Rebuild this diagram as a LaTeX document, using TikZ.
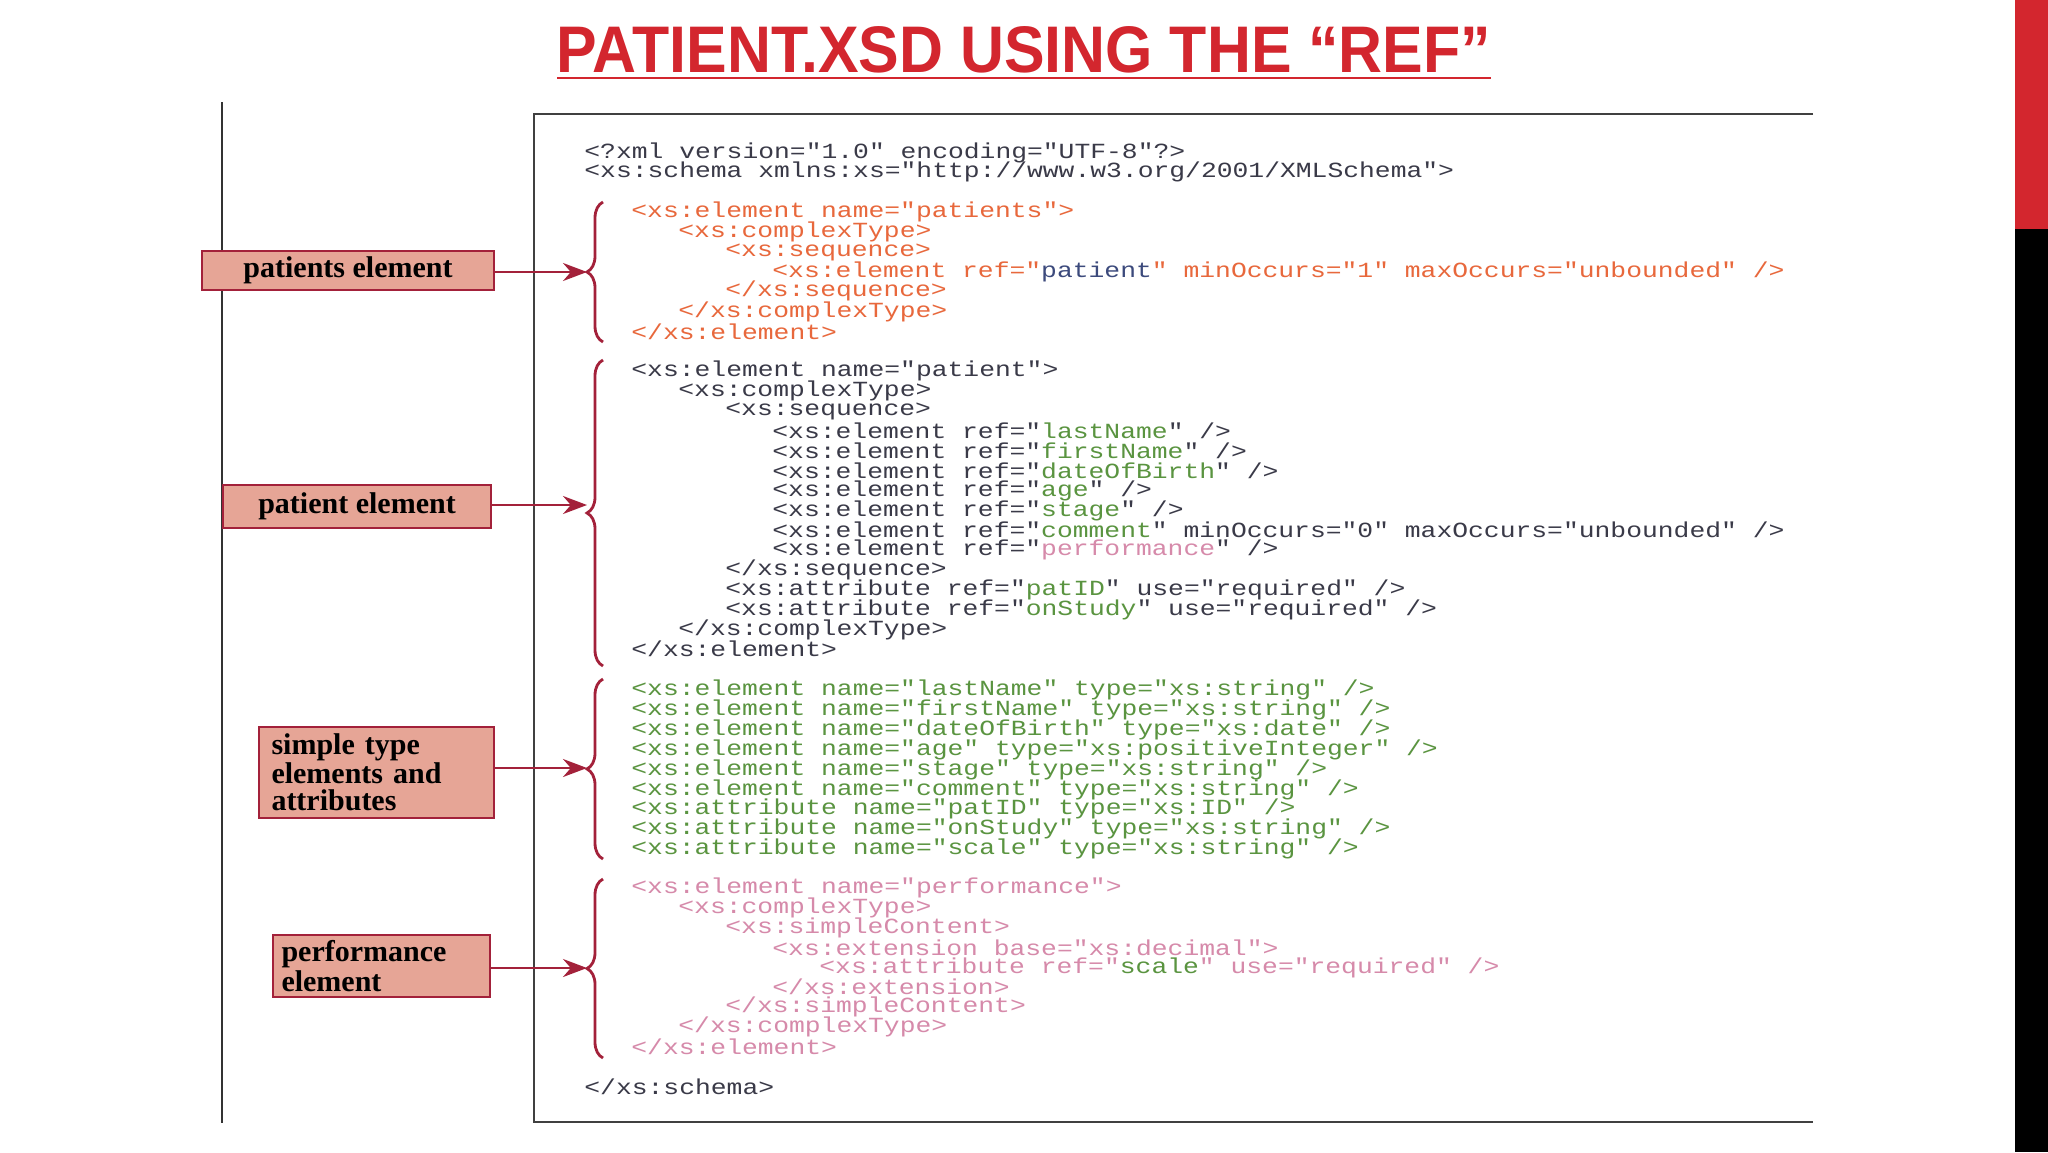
\documentclass[tikz,border=0pt]{standalone}
\usepackage{fontspec}
\usetikzlibrary{decorations.pathreplacing,arrows.meta}
\newfontfamily\codefont[FakeStretch=1.22]{Liberation Mono}
\newfontfamily\labfont{Liberation Serif}
\newfontfamily\ttlfont{Liberation Sans}
\definecolor{cor}{HTML}{E8683C}
\definecolor{cdk}{HTML}{3A3A48}
\definecolor{cgr}{HTML}{5A9440}
\definecolor{cpk}{HTML}{D68AAA}
\definecolor{cbl}{HTML}{3C4A7C}
\definecolor{brc}{HTML}{A3213A}
\definecolor{labfill}{HTML}{E6A596}
\definecolor{ttl}{HTML}{D3262E}
\newcommand\cG[1]{\textcolor{cgr}{#1}}
\newcommand\cP[1]{\textcolor{cpk}{#1}}
\newcommand\cB[1]{\textcolor{cbl}{#1}}
\tikzset{
 code/.style={anchor=west,inner sep=0pt,font=\codefont\fontsize{10.8}{11}\selectfont},
 lab/.style={draw=brc,line width=1.2pt,fill=labfill,inner sep=0pt,font=\labfont\bfseries\fontsize{15}{13.5}\selectfont,align=left},
 br/.style={draw=brc,line width=1.4pt,decorate,decoration={brace,amplitude=8pt,aspect=0.5}},
 arr/.style={draw=brc,line width=1.2pt,-{Stealth[length=12pt,width=9pt]}}
}
\begin{document}
\begin{tikzpicture}[x=0.5pt,y=-0.5pt]
\useasboundingbox (0,0) rectangle (2048,1152);
\fill[white] (0,0) rectangle (2048,1152);
% side bars
\fill[ttl] (2015,0) rectangle (2048,229);
\fill[black] (2015,229) rectangle (2048,1152);
% title
\node[inner sep=0pt,text=ttl] (title) at (1024,50) {\resizebox{467pt}{23pt}{\ttlfont\bfseries PATIENT.XSD USING THE “REF”}};
\draw[ttl,line width=1.3pt] (557,78) -- (1491,78);
% frame lines
\draw[black!80,line width=1pt] (222,102) -- (222,1123);
\draw[black!75,line width=1pt] (1813,114) -- (534,114) -- (534,1122) -- (1813,1122);
% code
\node[code,text=cdk] (h1) at (584,153) {<?xml version="1.0" encoding="UTF-8"?>};
\node[code,text=cdk] (h2) at (584,172) {<xs:schema xmlns:xs="http://www.w3.org/2001/XMLSchema">};
% patients
\begin{scope}[every node/.append style={text=cor}]
\node[code] (a1) at (631,212) {<xs:element name="patients">};
\node[code] (a2) at (678,232) {<xs:complexType>};
\node[code] (a3) at (725,252) {<xs:sequence>};
\node[code] (a4) at (772,272) {<xs:element ref="\cB{patient}" minOccurs="1" maxOccurs="unbounded" />};
\node[code] (a5) at (725,291) {</xs:sequence>};
\node[code] (a6) at (678,312) {</xs:complexType>};
\node[code] (a7) at (631,332) {</xs:element>};
\end{scope}
% patient
\begin{scope}[every node/.append style={text=cdk}]
\node[code] (b1) at (631,371) {<xs:element name="patient">};
\node[code] (b2) at (678,391) {<xs:complexType>};
\node[code] (b3) at (725,411) {<xs:sequence>};
\node[code] (b4) at (772,431) {<xs:element ref="\cG{lastName}" />};
\node[code] (b5) at (772,451) {<xs:element ref="\cG{firstName}" />};
\node[code] (b6) at (772,471) {<xs:element ref="\cG{dateOfBirth}" />};
\node[code] (b7) at (772,491) {<xs:element ref="\cG{age}" />};
\node[code] (b8) at (772,511) {<xs:element ref="\cG{stage}" />};
\node[code] (b9) at (772,530) {<xs:element ref="\cG{comment}" minOccurs="0" maxOccurs="unbounded" />};
\node[code] (b10) at (772,550) {<xs:element ref="\cP{performance}" />};
\node[code] (b11) at (725,570) {</xs:sequence>};
\node[code] (b12) at (725,590) {<xs:attribute ref="\cG{patID}" use="required" />};
\node[code] (b13) at (725,610) {<xs:attribute ref="\cG{onStudy}" use="required" />};
\node[code] (b14) at (678,630) {</xs:complexType>};
\node[code] (b15) at (631,649) {</xs:element>};
\end{scope}
% simple
\begin{scope}[every node/.append style={text=cgr}]
\node[code] (c1) at (631,690) {<xs:element name="lastName" type="xs:string" />};
\node[code] (c2) at (631,710) {<xs:element name="firstName" type="xs:string" />};
\node[code] (c3) at (631,730) {<xs:element name="dateOfBirth" type="xs:date" />};
\node[code] (c4) at (631,750) {<xs:element name="age" type="xs:positiveInteger" />};
\node[code] (c5) at (631,770) {<xs:element name="stage" type="xs:string" />};
\node[code] (c6) at (631,790) {<xs:element name="comment" type="xs:string" />};
\node[code] (c7) at (631,809) {<xs:attribute name="patID" type="xs:ID" />};
\node[code] (c8) at (631,829) {<xs:attribute name="onStudy" type="xs:string" />};
\node[code] (c9) at (631,849) {<xs:attribute name="scale" type="xs:string" />};
\end{scope}
% performance
\begin{scope}[every node/.append style={text=cpk}]
\node[code] (d1) at (631,888) {<xs:element name="performance">};
\node[code] (d2) at (678,908) {<xs:complexType>};
\node[code] (d3) at (725,928) {<xs:simpleContent>};
\node[code] (d4) at (772,948) {<xs:extension base="xs:decimal">};
\node[code] (d5) at (819,968) {<xs:attribute ref="\cG{scale}" use="required" />};
\node[code] (d6) at (772,987) {</xs:extension>};
\node[code] (d7) at (725,1007) {</xs:simpleContent>};
\node[code] (d8) at (678,1027) {</xs:complexType>};
\node[code] (d9) at (631,1047) {</xs:element>};
\end{scope}
\node[code,text=cdk] (h3) at (584,1087) {</xs:schema>};
% braces
\coordinate (t1) at (587,272); \coordinate (t2) at (587,505);
\coordinate (t3) at (587,768); \coordinate (t4) at (587,968);
\draw[br] (603,342) -- (603,202);
\draw[br] (603,666) -- (603,360);
\draw[br] (603,859) -- (603,679);
\draw[br] (603,1058) -- (603,879);
% labels
\node[lab,minimum width=146pt,minimum height=19.5pt,align=center] (L1) at (348,270.5) {patients element};
\node[lab,minimum width=134pt,minimum height=21.5pt,align=center] (L2) at (357,506.5) {patient element};
\node[lab,minimum width=117.5pt,minimum height=45.5pt,text width=105pt,inner xsep=6pt] (L3) at (376.5,772.5) {simple type\\elements and\\attributes};
\node[lab,minimum width=108.5pt,minimum height=31pt,text width=100pt,inner xsep=4pt] (L4) at (381.5,966) {performance\\element};
\draw[arr] (L1.east |- t1) -- (t1);
\draw[arr] (L2.east |- t2) -- (t2);
\draw[arr] (L3.east |- t3) -- (t3);
\draw[arr] (L4.east |- t4) -- (t4);
\end{tikzpicture}
\end{document}
